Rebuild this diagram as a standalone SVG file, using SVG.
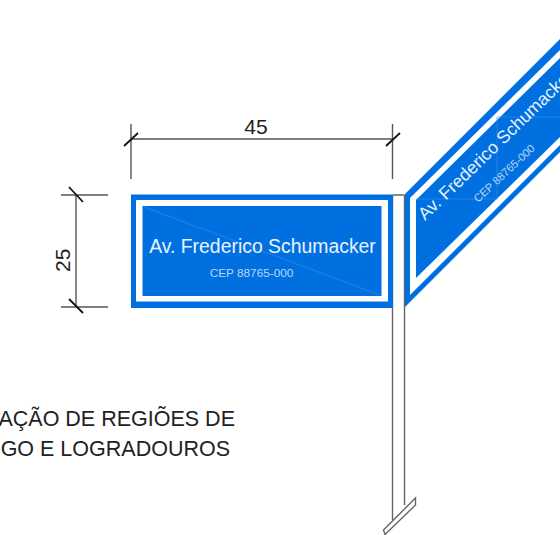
<svg xmlns="http://www.w3.org/2000/svg" width="560" height="535" viewBox="0 0 560 535">
<style>
.dim{fill:none;stroke:#555;stroke-width:1.4}
.tick{fill:none;stroke:#111;stroke-width:1.8}
.pole{fill:none;stroke:#666;stroke-width:1.4}
.blue{fill:#0070e0}
.wh{fill:#fff}
.t{font-family:"Liberation Sans",Arial,sans-serif}
.sw{fill:#eaf2fd}
.sm{fill:#b9d6f8}
.lb{fill:#222}
.faint{fill:none;stroke:#3f8fe8;stroke-width:.6}
</style>
<g id="pole">
<path class="pole" d="M393 195H404.500M392.500 195V520M404.500 195V505"/>
<path class="pole" d="M383.500 530L415.500 498V505L385 534.500Z"/>
</g>
<g id="sign-front">
<rect class="blue" x="131" y="194.500" width="262" height="113.500"/>
<rect class="wh" x="136" y="200" width="252" height="101.500"/>
<rect class="blue" x="142.500" y="206" width="239" height="90"/>
<path class="faint" d="M144 207L380 295"/>
<text class="t sw" x="262.500" y="253" font-size="19.400" text-anchor="middle">Av. Frederico Schumacker</text>
<text class="t sm" x="251.500" y="276.500" font-size="11.800" text-anchor="middle">CEP 88765-000</text>
</g>
<g id="sign-side">
<path class="blue" d="M405 194L560 39V152L405 307Z"/>
<path class="wh" d="M410 198L560 50V145L410 295Z"/>
<path class="blue" d="M416 200L560 58V137L416 278Z"/>
<path class="faint" d="M416 199H497V117H560"/>
<text class="t sw" transform="translate(425 221) rotate(-44)" font-size="17.800">Av. Frederico Schumacker</text>
<text class="t sm" transform="translate(478 203) rotate(-43)" font-size="11.100">CEP 88765-000</text>
</g>
<g id="dimensions">
<path class="dim" d="M131 124V179M392.500 124V179M131 139H392.500"/>
<path class="tick" d="M124 146L138 133M386 146L400 133"/>
<path class="dim" d="M61 195H108M61 307H108M76 195V307"/>
<path class="tick" d="M69 187L83 202M69 299L83 313"/>
<text class="t lb" x="256" y="134" font-size="21" text-anchor="middle">45</text>
<text class="t lb" transform="translate(70 272) rotate(-90)" font-size="21">25</text>
</g>
<g id="caption">
<text class="t lb" x="235" y="426" font-size="21.500" text-anchor="end">AÇÃO DE REGIÕES DE</text>
<text class="t lb" x="230" y="456" font-size="21.500" text-anchor="end">GO E LOGRADOUROS</text>
</g>
</svg>
